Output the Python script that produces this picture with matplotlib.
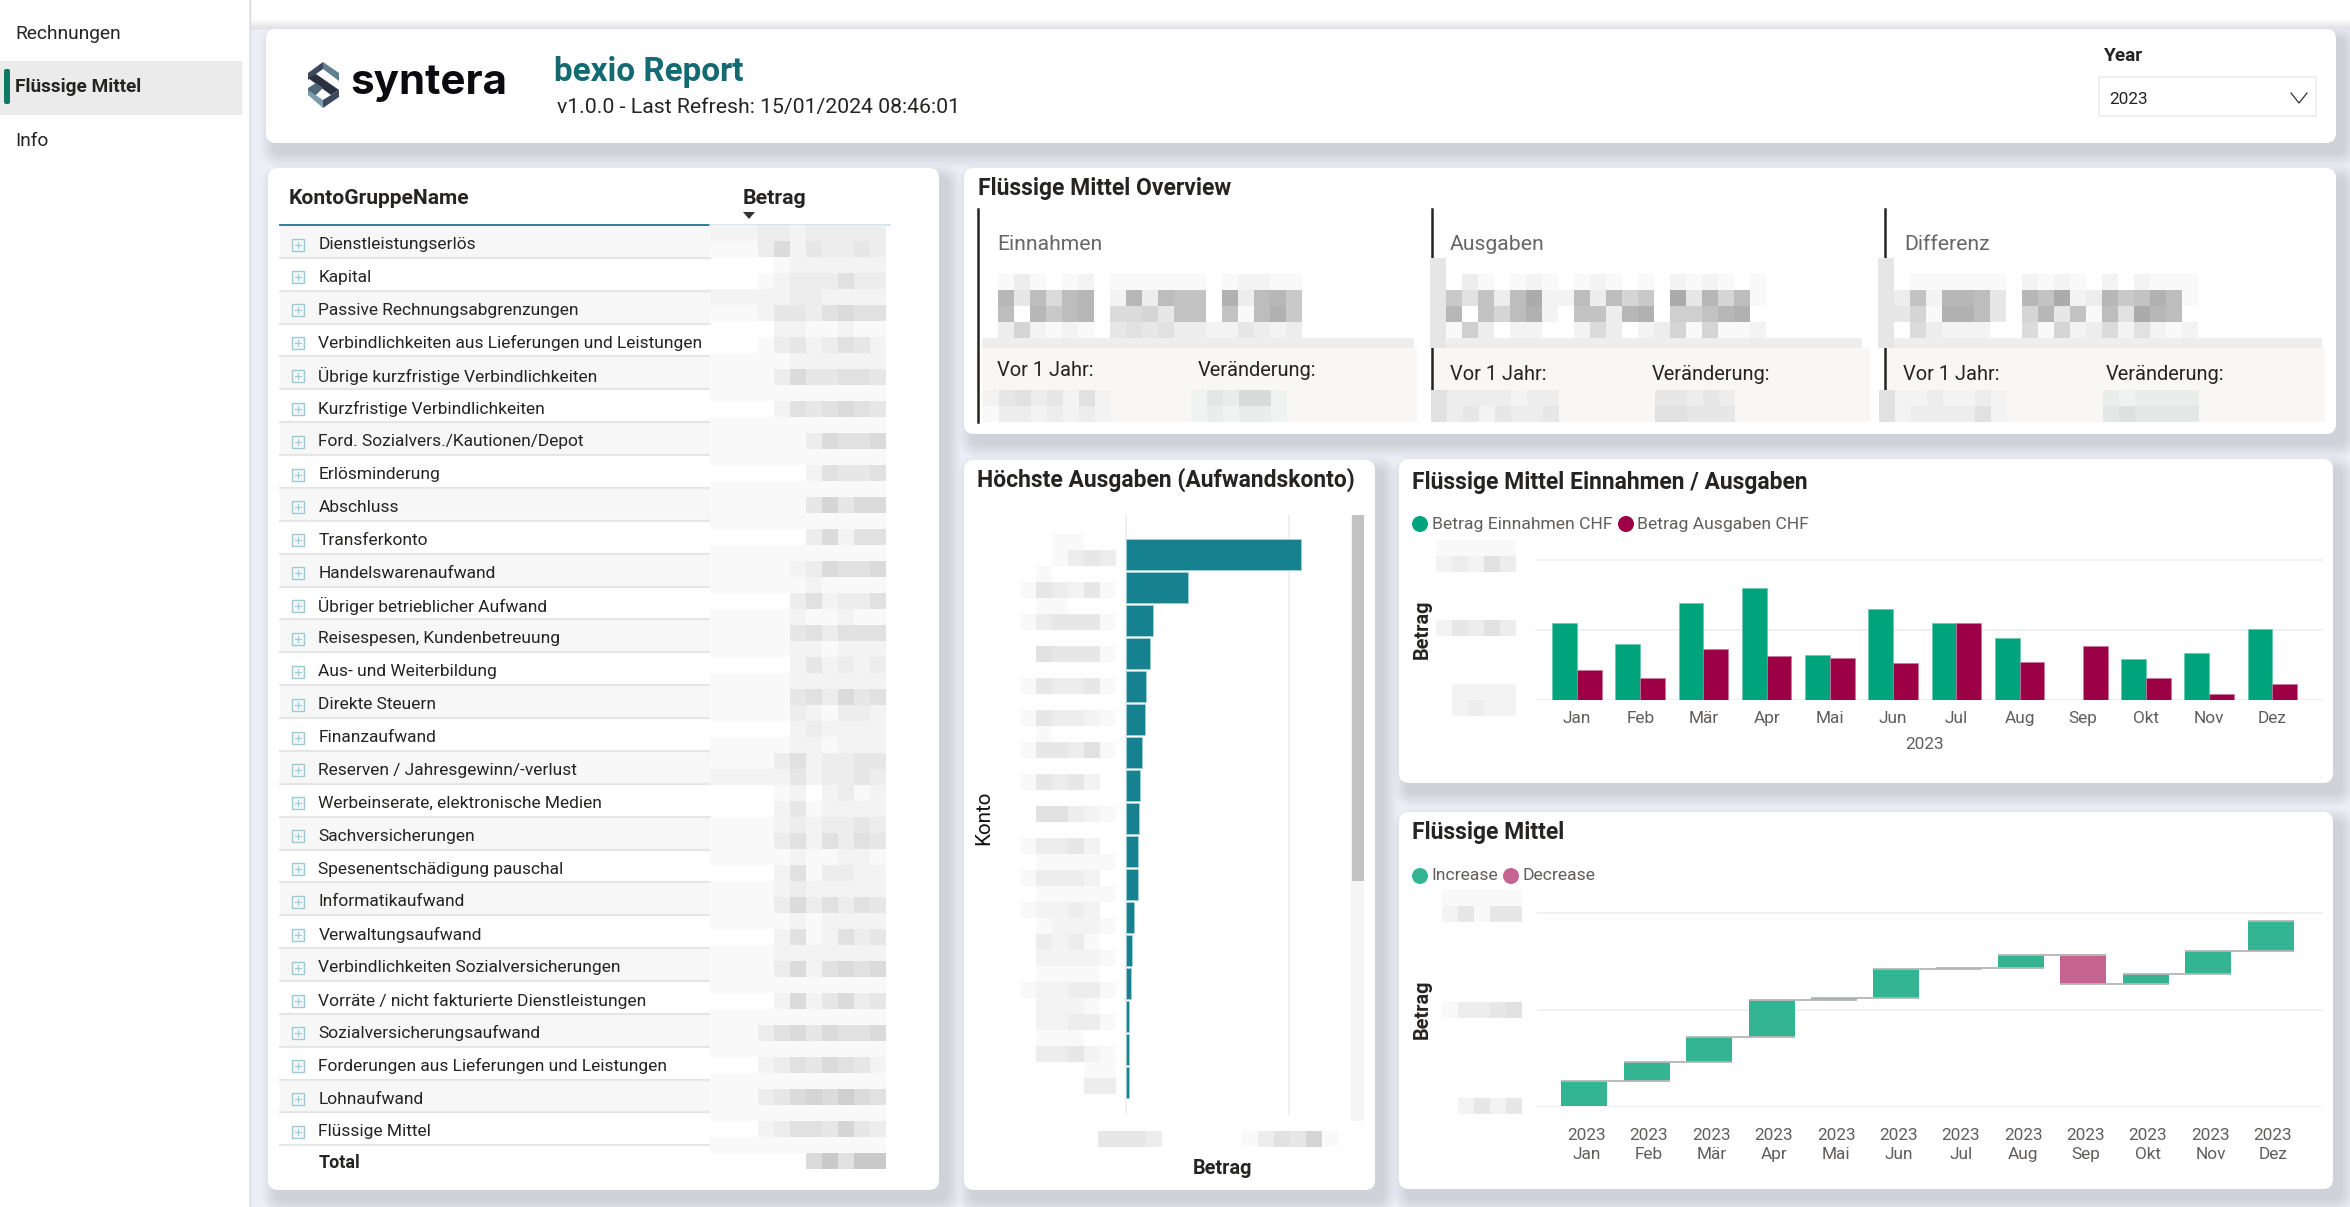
#!/usr/bin/python3
import matplotlib
matplotlib.use("Agg")
import matplotlib.pyplot as plt
from matplotlib.patches import FancyBboxPatch, Rectangle, Polygon, Circle
from matplotlib.font_manager import FontProperties
from matplotlib.textpath import TextPath
import numpy as np

FONT = "Roboto"
plt.rcParams['font.family'] = [FONT, 'DejaVu Sans']

W, H = 2350, 1207

# chart values (amounts are blurred, so the scale is relative)
months = ["Jan", "Feb", "Mär", "Apr", "Mai", "Jun", "Jul", "Aug", "Sep", "Okt", "Nov", "Dez"]
einnahmen = [110, 80, 139, 160, 64, 130, 110, 89, 0, 58, 67, 101]
ausgaben = [43, 32, 73, 63, 60, 53, 110, 54, 77, 31, 8, 23]
wf_start = 0.7
wf_delta = [26, 19.2, 26, 38.8, 1.4, 30.5, 0.7, 13.7, -29.8, 9.9, 23.7, 31.2]
konto_betrag = [107.3, 37.9, 16.5, 14.9, 12.6, 11.8, 10.0, 8.6, 8.1, 7.7, 7.7, 5.1, 4.1, 3.1, 2.2, 2.0, 1.8]

nav_items = ["Rechnungen", "Flüssige Mittel", "Info"]
konto_gruppen = [
    "Dienstleistungserlös", "Kapital", "Passive Rechnungsabgrenzungen",
    "Verbindlichkeiten aus Lieferungen und Leistungen", "Übrige kurzfristige Verbindlichkeiten",
    "Kurzfristige Verbindlichkeiten", "Ford. Sozialvers./Kautionen/Depot", "Erlösminderung",
    "Abschluss", "Transferkonto", "Handelswarenaufwand", "Übriger betrieblicher Aufwand",
    "Reisespesen, Kundenbetreuung", "Aus- und Weiterbildung", "Direkte Steuern", "Finanzaufwand",
    "Reserven / Jahresgewinn/-verlust", "Werbeinserate, elektronische Medien", "Sachversicherungen",
    "Spesenentschädigung pauschal", "Informatikaufwand", "Verwaltungsaufwand",
    "Verbindlichkeiten Sozialversicherungen", "Vorräte / nicht fakturierte Dienstleistungen",
    "Sozialversicherungsaufwand", "Forderungen aus Lieferungen und Leistungen", "Lohnaufwand",
    "Flüssige Mittel",
]

# the blurred figures: one char per 16px block, 0 = nothing, higher = darker
blur_table = [
    "22233233333", "11136243343", "00001222222", "00012333533", "22222332222", "11124435655",
    "00002211211", "00013423542", "11111222222", "11113644554", "11111111111", "00002545654",
    "11111111111", "11111136556", "11111111111", "00000025445", "11111111111", "11111147466",
    "11111111111", "00000036255", "11111111111", "11111236556", "11111121111", "00000352335",
    "11111211211", "11111453555", "11111221222", "00000242323", "11111222222", "11111453645",
    "11111321332", "00000232222", "11111221222", "11113523344", "22222423343", "00001202312",
    "00002412222", "11112323343", "11113525354", "11111211221", "00002513322", "11112322222",
    "11113635354", "11111212222", "00002512534", "11112222222", "11113625656", "11111111111",
    "00002624634", "11111111111", "11135646556", "11111111111", "00023546542", "11111111111",
    "11134676865", "11111111111", "00023554743", "11111111111", "00000069599",
]
blur_einnahmen = ["1310120111111012211", "c4b6bc02c3baa0d3bc9", "b0c9bc06674aa0a1bd9", "3721210454533224323"]
blur_ausgaben = ["03101210121010212101", "95a3be22b3b790e4c7b1", "c0a7bd20aa3cd088acd0", "18302200263023717112"]
blur_differenz = ["0111111021210202111", "3a2ccb40cae23c9adb1", "471ddb407c4a1b5ecb0", "0632220061723625212"]
blur_konto = [
    "001100", "001343", "010000", "143241", "011000", "134441", "000000", "054441", "000000",
    "143341", "000000", "143321", "010000", "144351", "000000", "143420", "000000", "055321",
    "000000", "133420", "011111", "133320", "011111", "122320", "012221", "032310", "022221",
    "011110", "122331", "022210", "022331", "011100", "033421", "000011", "000033",
]

fig = plt.figure(figsize=(W / 100, H / 100), dpi=100, facecolor="#edeef5")
bg = fig.add_axes([0, 0, 1, 1], zorder=0)
bg.set_xlim(0, W)
bg.set_ylim(H, 0)
bg.axis("off")
over = fig.add_axes([0, 0, 1, 1], zorder=5)
over.set_xlim(0, W)
over.set_ylim(H, 0)
over.axis("off")


def ax_px(x0, y0, x1, y1):
    return fig.add_axes([x0 / W, 1 - y1 / H, (x1 - x0) / W, (y1 - y0) / H], zorder=3, facecolor="none")


def fit(s, target, weight="normal", family=FONT):
    # font size in points that makes string s about target px wide
    w = TextPath((0, 0), s, size=10, prop=FontProperties(family=family, weight=weight)).get_extents().width
    return 10 * target * 0.72 / w


TXT = "#252423"
GREY = "#605e5c"
fs_table = fit(konto_gruppen[3], 384)
fs_head = fit("KontoGruppeName", 179, "bold")
fs_title = fit("Flüssige Mittel Einnahmen / Ausgaben", 394, "bold")
fs_legend = fit("Betrag Einnahmen CHF", 178)
fs_tick = fit("2023", 37)
fs_kpi = fit("Einnahmen", 102)
fs_sub = fit("Veränderung:", 117)
fs_axis = fit("Betrag", 57, "bold")


def label(x, y, s, size, color=TXT, weight="normal", ha="left", rotation=0, ax=None):
    (ax or bg).text(x, y + 2 if rotation == 0 else y, s, fontsize=size, color=color, fontweight=weight,
                    ha=ha, va="center", rotation=rotation)


def card(x0, y0, x1, y1):
    for k in range(14, 0, -1):
        bg.add_patch(FancyBboxPatch((x0 + 8 - k, y0 + 10 - k), x1 - x0 + 2 * k, y1 - y0 + 2 * k,
                                    boxstyle="round,pad=0,rounding_size=%d" % (8 + k),
                                    fc="#5c5c68", ec="none", alpha=0.012, zorder=1))
    bg.add_patch(FancyBboxPatch((x0, y0), x1 - x0, y1 - y0, boxstyle="round,pad=0,rounding_size=10",
                                fc="white", ec="none", zorder=2))


def blur(x, y, rows, tint=False, ax=None):
    for r, row in enumerate(rows):
        for c, ch in enumerate(row):
            n = int(ch, 16)
            if n == 0:
                continue
            g = (255 - 6 * n) / 255
            col = (g - 0.015, g + 0.005, g - 0.005) if tint else (g, g, g)
            (ax or over).add_patch(Rectangle((x + 16 * c, y + 16 * r), 16, 16, fc=col, ec="none",
                                             antialiased=False, zorder=6))


# cards first so that their shadows stay under the sidebar and the top strip
card(266, 29, 2336, 143)
card(268, 168, 939, 1190)
card(964, 168, 2336, 434)
card(964, 460, 1375, 1190)
card(1399, 459, 2333, 783)
card(1399, 812, 2333, 1189)

# sidebar and top strip
bg.add_patch(Rectangle((0, 0), 249, H, fc="white", ec="none", zorder=2.5))
bg.plot([249.5, 249.5], [0, H], color="#dcdcdc", lw=1, zorder=2.6)
bg.add_patch(Rectangle((250, 0), W - 250, 29, fc="white", ec="none", zorder=1.5))
for k in range(9):
    bg.plot([250, W], [20 + k, 20 + k], color="#9a9aa8", alpha=0.03 * (k + 1), lw=0.8, zorder=1.6)
bg.add_patch(Rectangle((0, 61), 242, 54, fc="#ebebeb", ec="none", zorder=2.7))
bg.add_patch(FancyBboxPatch((4, 69), 6, 35, boxstyle="round,pad=0,rounding_size=2", fc="#0f7a63", ec="none", zorder=3))
fs_nav = fit("Rechnungen", 103)
label(15, 32, nav_items[0], fs_nav)
label(15, 85, nav_items[1], fit("Flüssige Mittel", 124, "bold"), weight="bold")
label(15, 139, nav_items[2], fs_nav)

# header card
for pts, col in [
    ([(308, 73), (323, 62), (323, 69), (316, 74), (308, 80)], "#3b4a5e"),
    ([(323, 62), (339, 73), (339, 81), (323, 69)], "#61808f"),
    ([(308, 78), (316, 74), (339, 90), (331, 95)], "#2a3040"),
    ([(308, 88), (316, 83), (323, 88), (316, 95), (316, 95), (308, 95)], "#50687a"),
    ([(308, 90), (308, 95), (323, 108), (323, 100)], "#7d9cab"),
    ([(323, 100), (339, 90), (339, 97), (323, 108)], "#3b4a5e"),
]:
    bg.add_patch(Polygon(pts, closed=True, fc=col, ec="none", zorder=3))
bg.text(350, 83, "syntera", fontsize=fit("syntera", 153, "bold", "Inter"), fontweight="bold", color="#0b0b0f",
        ha="left", va="center", family="Inter", zorder=3)
label(554, 70, "bexio Report", fit("bexio Report", 187, "bold"), color="#136a73", weight="bold")
label(557, 106, "v1.0.0 - Last Refresh: 15/01/2024 08:46:01", fit("v1.0.0 - Last Refresh: 15/01/2024 08:46:01", 399))
label(2104, 54, "Year", fit("Year", 39, "bold"), weight="bold")
bg.add_patch(Rectangle((2099, 77), 217, 39, fc="white", ec="#ececec", lw=1.2, zorder=3))
label(2109, 98, "2023", fit("2023", 37))
bg.plot([2291, 2299, 2307], [93, 103, 93], color="#333333", lw=0.9, zorder=4)

# table card
label(289, 197, "KontoGruppeName", fs_head, weight="bold")
label(743, 197, "Betrag", fit("Betrag", 61, "bold"), weight="bold")
bg.add_patch(Polygon([(743, 212), (755, 212), (749, 219)], closed=True, fc="#333333", ec="none", zorder=4))
bg.plot([280, 710], [225, 225], color="#177a87", lw=1.3, zorder=4)
bg.plot([710, 890], [225, 225], color="#cfe3e6", lw=1.3, zorder=4)
row_h = 32.87
for i, name in enumerate(konto_gruppen):
    y0 = 226 + row_h * i
    if i % 2 == 0:
        bg.add_patch(Rectangle((280, y0), 430, row_h, fc="#f7f7f7", ec="none", zorder=3))
    bg.plot([280, 710], [y0 + row_h - 1, y0 + row_h - 1], color="#e6e6e6", lw=1.6, zorder=3.5)
    yc = y0 + 18.5
    bg.add_patch(Rectangle((291.5, yc - 6), 12, 12, fc="#f1f8f9", ec="#9ccbd2", lw=1, zorder=4))
    bg.plot([294.5, 300.5], [yc, yc], color="#9ccbd2", lw=0.8, zorder=4.5)
    bg.plot([297.5, 297.5], [yc - 3, yc + 3], color="#9ccbd2", lw=0.8, zorder=4.5)
    label(318.5, yc - 2, name, fs_table)
label(318.5, 1161, "Total", fit("Total", 40, "bold"), weight="bold")
blur(710, 225, blur_table)

# overview card
label(978, 187, "Flüssige Mittel Overview", fs_title, weight="bold")
bg.add_patch(Rectangle((982, 348), 435, 74, fc="#f8f7f6", ec="none", zorder=3))
bg.add_patch(Rectangle((1433, 348), 437, 74, fc="#f8f7f6", ec="none", zorder=3))
bg.add_patch(Rectangle((1887, 348), 438, 74, fc="#f8f7f6", ec="none", zorder=3))
for x0, x1 in [(982, 1414), (1433, 1862), (1887, 2322)]:
    bg.add_patch(Rectangle((x0, 338), x1 - x0, 10, fc="#eeeeee", ec="none", zorder=3))
bg.plot([977.5, 977.5], [209, 422], color="#252423", lw=1.8, zorder=4)
for x in [1431.5, 1885]:
    bg.plot([x, x], [209, 258], color="#252423", lw=1.8, zorder=4)
    bg.plot([x, x], [348, 390], color="#252423", lw=1.8, zorder=4)
    bg.add_patch(Rectangle((x - 1.5 if x < 1500 else x - 7, 258), 16, 90, fc="#e6e6e6", ec="none", zorder=4))
for x, name in [(997, "Einnahmen"), (1450, "Ausgaben"), (1904, "Differenz")]:
    label(x, 242, name, fs_kpi, color="#666666")
for xv, xc, yy in [(997, 1198, 368), (1450, 1652, 372), (1903, 2106, 372)]:
    label(xv, yy, "Vor 1 Jahr:", fs_sub)
    label(xc, yy, "Veränderung:", fs_sub)
blur(998, 274, blur_einnahmen)
blur(1446, 274, blur_ausgaben)
blur(1894, 274, blur_differenz)
blur(983, 390, ["24534252", "13323232"])
blur(1191, 390, ["243662", "232332"], tint=True)
blur(1431, 390, ["53333233", "53424334"])
blur(1655, 390, ["44343", "55444"])
blur(1879, 390, ["52232232", "52333352"])
blur(2103, 390, ["323333", "454444"], tint=True)

# konto bars
label(977, 478, "Höchste Ausgaben (Aufwandskonto)", fit("Höchste Ausgaben (Aufwandskonto)", 376, "bold"), weight="bold")
ax = ax_px(1125, 515, 1345, 1115)
ypos = np.arange(len(konto_betrag))
ax.barh(ypos, konto_betrag, height=0.94, color="#17828f", edgecolor="#a4d0d6", linewidth=0.6, zorder=3)
ax.set_xlim(-0.4, 134)
ax.set_ylim(17.0, -1.2)
ax.set_xticks([0, 100])
ax.set_xticklabels([])
ax.set_yticks([])
ax.tick_params(length=0)
ax.grid(axis="x", color="#f0f0f0", lw=1.4, zorder=0)
for s in ax.spines.values():
    s.set_visible(False)
bg.add_patch(Rectangle((1351, 515), 13, 606, fc="#f5f5f5", ec="none", zorder=3))
bg.add_patch(Rectangle((1352, 515), 12, 366, fc="#c2c2c2", ec="none", zorder=3.5))
label(984, 818, "Konto", fit("Konto", 52), ha="center", rotation=90, color="#111111")
label(1223, 1166, "Betrag", fs_axis, ha="center", weight="bold")
blur(1020, 534, blur_konto)
blur(1098, 1131, ["4443"])
blur(1242, 1131, ["135471"])

# einnahmen / ausgaben
label(1412, 480, "Flüssige Mittel Einnahmen / Ausgaben", fs_title, weight="bold")
bg.add_patch(Circle((1420, 524), 8, fc="#00a47c", ec="none", zorder=4))
label(1431.5, 522, "Betrag Einnahmen CHF", fs_legend, color=GREY)
bg.add_patch(Circle((1626, 524), 8, fc="#9c0045", ec="none", zorder=4))
label(1637, 522, "Betrag Ausgaben CHF", fs_legend, color=GREY)
ax = ax_px(1535, 540, 2323, 700)
xpos = np.arange(len(months))
bw = 0.392
ax.bar(xpos - bw / 2, einnahmen, bw, color="#00a47c", edgecolor="#66c8b0", linewidth=0.5, zorder=3)
ax.bar(xpos + bw / 2, ausgaben, bw, color="#9c0045", edgecolor="#c777a0", linewidth=0.5, zorder=3)
ax.set_xlim(-0.665, 11.8)
ax.set_ylim(0, 228.6)
ax.set_yticks([0, 100, 200])
ax.set_yticklabels([])
ax.set_xticks(xpos)
ax.set_xticklabels(months, fontsize=fs_tick, color=GREY)
ax.tick_params(length=0, pad=8)
ax.grid(axis="y", color="#f0f0f0", lw=1.4, zorder=0)
ax.set_xlabel("2023", fontsize=fs_tick, color=GREY, labelpad=8, x=0.495)
ax.set_ylabel("Betrag", fontsize=fs_axis, fontweight="bold", color=TXT)
ax.yaxis.set_label_coords((1432 - 1535) / 788, 0.44)
for s in ax.spines.values():
    s.set_visible(False)
blur(1436, 540, ["11111", "23253"])
blur(1436, 620, ["24353"])
blur(1452, 684, ["2222", "2322"])

# waterfall
label(1412, 830, "Flüssige Mittel", fs_title, weight="bold")
bg.add_patch(Circle((1420, 876), 8, fc="#33b593", ec="none", zorder=4))
label(1431.5, 874, "Increase", fs_legend, color=GREY)
bg.add_patch(Circle((1511, 876), 8, fc="#c56490", ec="none", zorder=4))
label(1522, 874, "Decrease", fs_legend, color=GREY)
ax = ax_px(1537, 895, 2323, 1107)
ends = wf_start + np.cumsum(wf_delta)
starts = np.concatenate([[wf_start], ends[:-1]])
deltas = np.array(wf_delta)
cols = ["#33b593" if d >= 0 else "#c56490" for d in deltas]
ax.bar(xpos, deltas, 0.737, bottom=starts, color=cols, zorder=3)
for i in range(len(ends)):
    x1 = i + 1 + 0.3685 if i < len(ends) - 1 else i + 0.3685
    ax.hlines(ends[i], i - 0.3685, x1, color="#b5b5b5", lw=1.3, zorder=4)
ax.hlines(starts[8], 8 - 0.3685, 8 + 0.3685, color="#b5b5b5", lw=1.3, zorder=4)
ax.set_xlim(-0.76, 11.84)
ax.set_ylim(0, 218.6)
ax.set_yticks([0, 100, 200])
ax.set_yticklabels([])
ax.set_xticks(xpos + 0.035)
ax.set_xticklabels(["2023\n" + m for m in months], fontsize=fs_tick, color=GREY, linespacing=1.35)
ax.tick_params(length=0, pad=15)
ax.grid(axis="y", color="#f0f0f0", lw=1.4, zorder=0)
ax.set_ylabel("Betrag", fontsize=fs_axis, fontweight="bold", color=TXT)
ax.yaxis.set_label_coords((1432 - 1537) / 786, 0.46)
for s in ax.spines.values():
    s.set_visible(False)
blur(1442, 890, ["11111", "24144"])
blur(1442, 1002, ["13345"])
blur(1458, 1098, ["2424"])

fig.savefig("out.png", dpi=100, facecolor=fig.get_facecolor())
